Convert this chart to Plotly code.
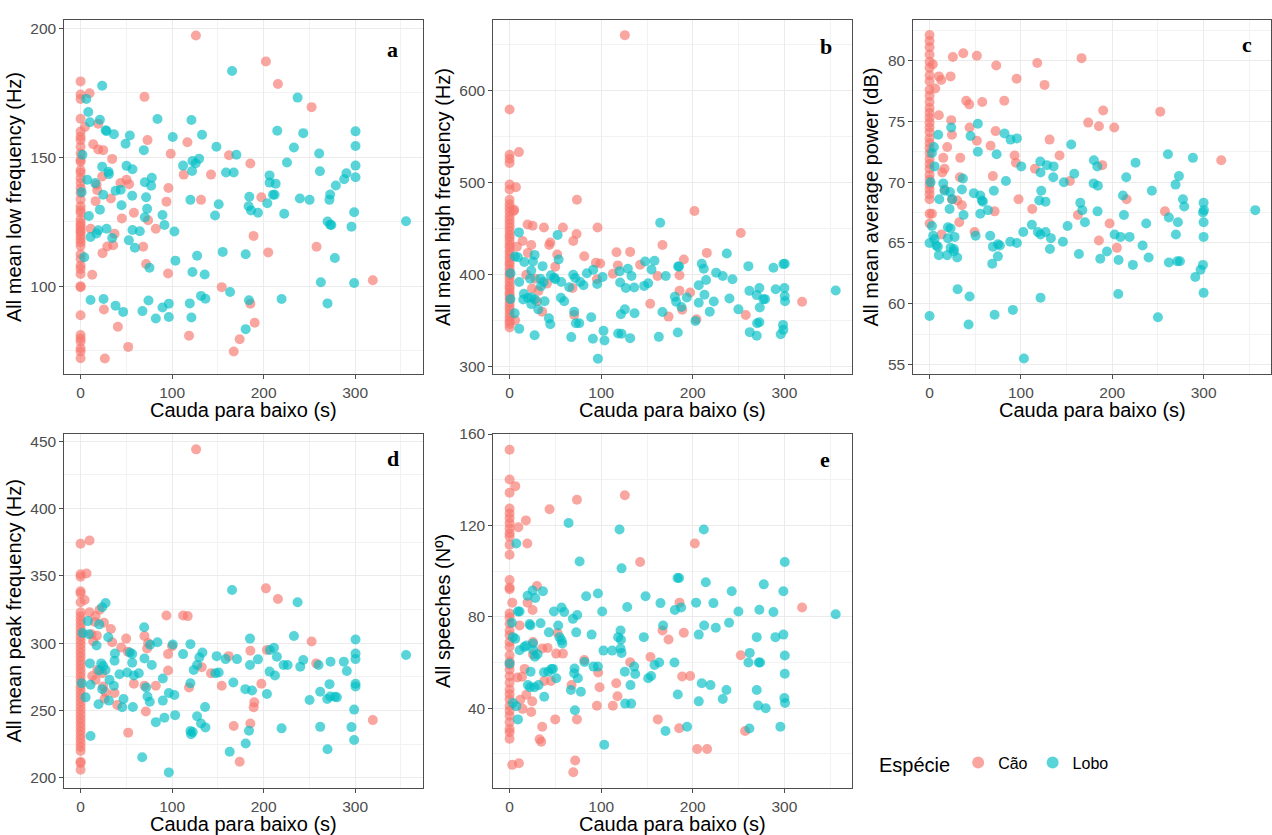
import plotly.graph_objects as go

# ---------------- data ----------------
# Panel a: All mean low frequency (Hz)
a_cao_x = [126, 202.5, 215.6, 252.4, 69.8, 9.8, 19.3, 4.7, 13.8, 19.3, 24.7, 34.5, 23.6, 17.5, 18.2, 16.4, 33.1, 43.6,
           50.2, 53, 73.1, 98.5, 116.7, 112.7, 142.5, 96, 93.8, 131.6, 162.2, 185.5, 197.5, 58.2, 45.1, 73.8, 82.2,
           10.9, 37.1, 35.6, 29.1, 24, 68.4, 71.6, 95.6, 12.7, 189, 257.8, 205, 154.2, 319.3, 25.5, 185.5, 40.7,
           190.2, 118.5, 52, 173.8, 167.3, 26.5,
           0, 0, 0, 0, 0, 0, 0, 0, 0, 0, 0, 0, 0, 0, 0, 0, 0, 0, 0, 0, 0, 0, 0, 0, 0, 0, 0, 0, 0, 0, 0, 0, 0, 0,
           0, 0, 0, 0, 0, 0, 0, 0, 0, 0, 0]
a_cao_y = [197.3, 187.2, 178.5, 169.5, 173.5, 174.9, 163.1, 161.8, 155.1, 153.1, 152.8, 149.4, 142.6, 139.4, 137.2,
           133, 134, 140, 141.3, 139.6, 156.7, 151.4, 155.9, 143.3, 143.3, 138.1, 132.8, 133.5, 150.8, 147.6, 134.5,
           128.5, 126.3, 125.6, 122.3, 122.3, 120.3, 115.9, 115.4, 112.8, 115.3, 108.6, 104.9, 104.4, 119.5, 115.3,
           113.1, 99.6, 102.3, 90.9, 93.2, 84.2, 85.8, 80.7, 76.4, 79.4, 74.6, 71.9,
           179.5, 174.4, 172.7, 165, 160, 158, 156.7, 154.1, 151.5, 149, 148.3, 145.1, 144, 141.9, 140, 138, 136.2,
           133.6, 131, 129.5, 128.5, 126, 124.6, 123.5, 122.7, 121.5, 120.8, 119.5, 118.2, 117, 115.6, 112.4, 110.5,
           108, 106.7, 104.7, 100, 99.6, 88.7, 81, 79.7, 78.5, 75.9, 74.6, 72]
a_lobo_x = [165.5, 23.6, 237.1, 6.2, 8.4, 21.1, 10.2, 84, 121.1, 27.3, 28.4, 36.4, 53.8, 49.1, 100.7, 132.7, 214.9,
            243.3, 300.4, 300.4, 233.1, 148.4, 69.1, 170.2, 260.7, 23.6, 50.2, 56.7, 30.5, 7.3, 30.9, 112, 122.2,
            125.8, 129.5, 121.8, 158.9, 167.3, 225.5, 261.5, 300.4, 290.5, 288, 300.4, 206.5, 206.5, 213.1, 278.9,
            77.8, 70.2, 77.1, 16, 38.2, 43.9, 1.1, 24.7, 56.4, 71.6, 120, 184.4, 210.2, 212, 239.6, 250.2, 272.7,
            271.9, 204, 150.9, 44.7, 21.1, 72.7, 183.6, 186.2, 193.8, 146.9, 222.5, 298.9, 9.1, 70.2, 89.5, 269.8,
            272.7, 274, 355.6, 296, 91.6, 56.7, 64.7, 102.5, 28.4, 19.3, 17.5, 10.9, 34.5, 52.7, 59.3, 155.3, 180.4,
            127.3, 277.8, 103.6, 75.3, 4, 122.2, 135.6, 262.5, 298.9, 163.3, 10.9, 25.1, 131.6, 136.4, 219.6, 184,
            74.2, 38.2, 46.5, 67.6, 89.5, 96.4, 119.3, 269.8, 82.2, 96.4, 121.1, 180.4, 2]
a_lobo_y = [183.5, 177.8, 173.2, 172.7, 167.6, 164.6, 163.6, 164.9, 164.5, 160.5, 160.2, 159, 158.5, 155.3, 157.9,
            158.8, 160.3, 159.4, 160.1, 154.4, 153.8, 154.1, 152.8, 151, 151.5, 146.4, 146.7, 145.4, 144.4, 141.3,
            143.5, 146.8, 148.6, 147.7, 149.5, 144.7, 144.1, 144.1, 148, 144.6, 146.8, 143.8, 141.5, 142.3, 143,
            140.2, 139.8, 139.1, 142.1, 140.3, 139, 140, 137, 137.4, 136.5, 135.5, 135.1, 134.5, 133.5, 134.7, 135.5,
            135.5, 134, 133.5, 135.6, 133.5, 132.2, 131.8, 131.4, 129.7, 130, 131, 129.4, 128.5, 127.4, 128.1, 128.7,
            127.2, 126.7, 127.6, 125.1, 123.8, 123.7, 125.2, 123.1, 123.7, 121.8, 121.3, 121.2, 122.3, 121.7, 120.4,
            119.1, 118.7, 117.8, 114.9, 113.3, 112.4, 111.8, 110.9, 109.9, 107.1, 111.2, 105.5, 104.5, 101.5, 101.2,
            97.7, 94.6, 95, 96.2, 95.1, 95, 94.5, 94.4, 92.4, 90, 90.3, 91.7, 93.2, 93.3, 93.3, 87.4, 88, 87.8, 83.3,
            151]

# Panel b: All mean high frequency (Hz)
b_cao_x = [125.8, 10.2, 6.9, 4.4, 73.5, 201.8, 252.4, 19.6, 25.1, 37.5, 58.2, 96, 73.1, 69.5, 14.2, 23.6, 44.4,
           43.3, 166.9, 215.3, 116.7, 131.6, 52, 81.5, 20, 190.2, 94.2, 98.9, 118.2, 142.5, 49.8, 112.7, 161.5,
           185.5, 95.3, 18.2, 28, 24.4, 31.6, 40.7, 68.7, 185.5, 197.1, 153.5, 319.3, 35.6, 70.5, 188.4, 173.5,
           257.8, 204, 29.8, 8, 5, 6,
           0, 0, 0, 0, 0, 0, 0, 0, 0, 0, 0, 0, 0, 0, 0, 0, 0, 0, 0, 0, 0, 0, 0, 0, 0, 0, 0, 0, 0, 0, 0, 0, 0, 0,
           0, 0, 0, 0, 0, 0, 0, 0, 0]
b_cao_y = [660, 532.8, 494.7, 468.8, 481, 468.8, 444.8, 454.1, 452.7, 450.9, 450.9, 450.9, 443.7, 436.1, 436.1,
           431.8, 434.4, 431.8, 431.8, 423.2, 423.9, 424.3, 421.4, 419.6, 423.2, 416, 412.4, 411.7, 409.6, 410.3,
           408.1, 400.6, 398, 398.8, 394.5, 399.5, 395.2, 384.4, 381.9, 389.8, 385.1, 381.9, 380.1, 367.9, 370,
           359.3, 355.7, 361.4, 353.9, 355.7, 351, 370.7, 430, 470, 350,
           579.2, 530, 525.6, 521, 497.6, 492.2, 481, 476, 472, 468, 463, 459, 455, 451, 447, 443, 440, 436, 432,
           429, 425, 421, 417, 413, 410, 406, 402, 399, 395, 391, 387, 384, 380, 377, 373, 369, 365, 361, 357, 353,
           349, 346, 342]
b_lobo_x = [164.4, 10.2, 52.4, 237.1, 5.8, 9, 27.3, 53.5, 16, 25.5, 36, 184, 185, 209.8, 212, 260.7, 288, 300.4,
            298.9, 158.2, 148, 154.9, 129.1, 120, 101.5, 95.6, 84.4, 69.5, 71.6, 91.3, 48.7, 23.6, 45.1, 49.8, 56.4,
            33.5, 37.1, 10.5, 22.5, 34.2, 65.1, 77.1, 80.7, 133.1, 120.7, 126.9, 136, 146.9, 170.5, 151.3, 225.5,
            232.7, 243.3, 214.5, 206.5, 212.7, 300, 290.5, 261.8, 272.7, 269.8, 277.1, 278.9, 300.4, 300.7, 356,
            240, 222.9, 193.5, 180.4, 181.8, 206.5, 187.6, 218.5, 249.8, 273.1, 15.6, 20, 24, 14.9, 23.6, 38.2,
            27.6, 56, 59.6, 31.3, 70.5, 125.8, 121.5, 136.4, 166.9, 42.9, 44.4, 72.4, 76, 89.1, 5.5, 270.2, 272.7,
            202.9, 298.5, 298.9, 10.5, 27.3, 67.3, 102.5, 103.6, 90.9, 118.5, 122.2, 131.6, 162.9, 183.6, 262.2,
            269.8, 296, 96.4, 1, 1]
b_lobo_y = [455.9, 445.5, 442.6, 422.5, 419.3, 418.5, 421, 416, 413.2, 413.9, 408.8, 408.5, 408.3, 411.4, 406,
            408.8, 407, 411.4, 411, 414.6, 413.9, 405.2, 406, 403.1, 397, 389.4, 401, 399.5, 395.9, 404.9, 396.3,
            404.1, 398.8, 394.5, 391.6, 395.2, 391.6, 391.6, 395.2, 386.9, 385.8, 391.6, 388, 398, 390.9, 385.1,
            385.5, 387.3, 398, 390.2, 401.7, 398, 394.5, 393.8, 388, 377.6, 385.1, 383.7, 381.9, 385.1, 377.3,
            372.9, 372.9, 376.2, 370.7, 382.3, 373.6, 370.4, 374.7, 375.5, 370, 368.9, 364.3, 359.3, 361.8, 363.9,
            378.7, 374.4, 374.7, 372.6, 367.5, 370.7, 372.6, 374.4, 370.7, 361.8, 359.3, 361.8, 356.4, 357.5, 358.9,
            352, 345.6, 346.7, 346.7, 353.2, 357.5, 346.7, 347.8, 349.2, 344.9, 339.5, 340.6, 333.7, 331.6, 338.4,
            328, 329.8, 335.5, 335.2, 330.5, 331.9, 336.6, 337, 333, 334.8, 308.2, 401, 373]

# Panel c: All mean average power (dB)
c_cao_x = [3.6, 10.2, 12.8, 6.2, 25.5, 36.9, 51.8, 73, 117.9, 166.4, 23, 95.3, 125.9, 40.1, 43.4, 57.7, 81.8,
           190.1, 252.6, 173.7, 185.4, 202.2, 10.2, 23.7, 24.5, 43.8, 72.3, 51.8, 131.4, 19.3, 66.8, 93.1, 142.3,
           319.3, 15, 33.6, 94.5, 189, 16.4, 13.9, 115.3, 69.3, 33.2, 153.6, 16.4, 24.5, 97.4, 30.3, 35.4, 215.7,
           257.7, 71.2, 112.4, 162.4, 2.6, 32.5, 197.1, 49.3, 13.1, 185.4, 205.1,
           0, 0, 0, 0, 0, 0, 0, 0, 0, 0, 0, 0, 0, 0, 0, 0, 0, 0, 0, 0, 0, 0, 0, 0, 0, 0, 0, 0, 0, 0, 0, 0]
c_cao_y = [79.7, 78.7, 78.4, 77.7, 80.3, 80.6, 80.4, 79.6, 79.8, 80.2, 78.7, 78.5, 78, 76.7, 76.4, 76.6, 76.7, 75.9,
           75.8, 74.9, 74.6, 74.5, 75.5, 75.1, 73.9, 74.5, 74.2, 73.4, 73.5, 72.9, 73, 72.2, 72.2, 71.8, 72, 72,
           71.6, 71.4, 71.1, 70.8, 71.1, 70.5, 70.4, 70.1, 69.4, 68.6, 68.6, 68.5, 68.1, 68.6, 67.6, 67.6, 67.8,
           67.3, 67.4, 66.7, 66.6, 65.9, 65.7, 65.2, 64.6,
           82.1, 81.6, 81.1, 80.5, 79.9, 79.4, 78.8, 78.3, 77.6, 77.1, 76.6, 76.1, 75.7, 75.3, 74.9, 74.5, 74.1,
           73.6, 73.2, 72.8, 72.4, 71.9, 71.5, 71.1, 70.6, 70.2, 69.8, 69.4, 69, 68.6, 67.4, 66.6]
c_lobo_x = [52.9, 23.7, 9.5, 44.9, 82.1, 88.7, 95.6, 155.1, 4.7, 2.6, 52.9, 73.4, 261, 288.3, 225.5, 121.2, 121.5,
            128.5, 135.8, 179.9, 183.6, 100.4, 5.5, 158.4, 135.4, 215.3, 273, 269.3, 36.5, 83.6, 147.1, 179.6,
            184.3, 1.1, 15, 35.4, 16.4, 22.3, 48.5, 70.4, 122.3, 243.4, 55.5, 57.3, 58.4, 10.6, 24.8, 211.7, 277.4,
            300, 120.1, 127, 165, 278.8, 356.6, 21.9, 63.9, 55.5, 167.2, 183.9, 299.3, 300.4, 37.2, 212.8, 262,
            170.1, 237.2, 271.9, 300, 2.6, 20.1, 23, 112, 151.1, 102.6, 118.6, 121.5, 127, 4, 5.5, 20.1, 27.4, 50.4,
            66.4, 202.6, 209.1, 219, 269.7, 300, 132.8, 0, 7.3, 9.1, 69.3, 74.8, 77, 88.3, 95.6, 146, 23, 26.6,
            26.6, 233.2, 131.8, 10.2, 19.3, 30.3, 74.8, 163.5, 194.2, 239.8, 186.9, 206.9, 68.6, 262, 271.2, 274.1,
            222.6, 299.3, 296.7, 290.9, 30.7, 206.6, 300, 43.8, 121.5, 91.2, 0, 71.2, 250, 42.7, 103.3]
c_lobo_y = [74.8, 74.5, 73.9, 73.8, 74, 73.5, 73.6, 73.1, 72.9, 72.4, 72.5, 72.3, 72.3, 72, 71.6, 71.7, 70.8, 71.4,
            71.3, 71.8, 71.3, 71.3, 71.3, 70.7, 70.4, 70.4, 70.5, 69.8, 70.3, 70.1, 70, 69.9, 69.7, 70, 69.9, 69.4,
            69.3, 69.2, 69.1, 69.3, 69.3, 69.3, 68.9, 68.5, 68.4, 68.6, 68.6, 68.9, 68.6, 68.3, 68.5, 68.4, 68.3,
            68, 67.7, 67.8, 67.7, 67.4, 67.7, 67.6, 67.5, 67.7, 67.3, 67.3, 67.1, 66.7, 66.6, 66.7, 66.7, 66.4, 66.3,
            66.2, 66.5, 66.4, 65.9, 65.9, 65.7, 65.9, 65.6, 65.3, 65.4, 65.5, 65.6, 65.6, 65.7, 65.5, 65.5, 65.7,
            65.5, 65.4, 65, 64.8, 64.7, 64.7, 64.9, 64.8, 65.1, 65, 65.1, 64.6, 64.5, 64.3, 64.8, 64.5, 64, 64, 63.8,
            63.9, 64.1, 64.3, 63.8, 63.7, 63.6, 63.3, 63.4, 63.5, 63.5, 63.2, 63.2, 62.8, 62.2, 61.2, 60.8, 60.9,
            60.6, 60.5, 59.5, 59, 59.1, 58.9, 58.3, 55.5]

# Panel d: All mean peak frequency (Hz)
d_cao_x = [126.2, 9.8, 6.5, 4.4, 9.8, 20.7, 16.4, 25.5, 15.6, 33.1, 17.8, 12, 13.8, 34.5, 49.8, 69.8, 73.8, 72.7,
           44.4, 51.6, 93.8, 112, 117.1, 100, 95.6, 95.6, 132.4, 142.5, 154.2, 118.5, 161.8, 185.5, 202.5, 215.6,
           252.4, 203.6, 257.5, 197.5, 58.2, 69.8, 82.2, 37.1, 40, 71.3, 189.8, 189.1, 319.3, 185.5, 52, 167.3,
           173.8, 12.7, 16.4, 23.6, 18.2, 24.7, 27.3, 26.2,
           0, 0, 0, 0, 0, 0, 0, 0, 0, 0, 0, 0, 0, 0, 0, 0, 0, 0, 0, 0, 0, 0, 0, 0, 0, 0, 0, 0, 0, 0, 0, 0, 0, 0,
           0, 0, 0, 0, 0, 0, 0, 0, 0, 0]
d_cao_y = [443.9, 376.2, 351.7, 332.1, 323, 324.8, 320.1, 315.2, 315.7, 310.5, 305.6, 306.6, 301.5, 300.7, 303.4,
           305.4, 300.2, 296.1, 296.8, 293.6, 320.6, 320.6, 320.1, 297.8, 291.9, 279.7, 282.1, 277.7, 268.4, 267.2,
           290.4, 294.4, 340.7, 332.8, 301.2, 294.9, 285, 269.9, 269.9, 268.4, 268.4, 263, 254.2, 249.3, 256.1,
           252.5, 242.9, 240.4, 233.6, 238.5, 212, 275.7, 272.8, 277.7, 280.1, 267.9, 263.5, 258.8,
           373.8, 351.2, 349.3, 338.5, 337, 330.4, 323, 320, 317, 314, 311, 308, 305, 302, 299, 296, 293, 290, 287,
           284, 281, 278, 275, 272, 268, 265, 262, 259, 256, 253, 250, 247, 244, 241, 238, 235, 232, 229, 226, 223,
           220, 212, 211, 206]
d_lobo_x = [165.5, 237.1, 27.3, 23.6, 8, 20.4, 2.2, 9.1, 17.5, 30.2, 69.5, 84, 100.7, 120, 76, 133.1, 185.1, 233.1,
            300.4, 300.4, 300.4, 355.6, 287.6, 290.9, 273.1, 260, 240, 243.3, 221.8, 226.2, 206.9, 211.3, 214.5,
            193.8, 185.1, 170.9, 158.5, 148.7, 129.8, 112, 127.3, 123.6, 120, 150.9, 147.3, 166.9, 206.5, 212.4,
            203.6, 180, 187.3, 272, 261.8, 269.5, 272.7, 277.8, 280, 300.4, 300.4, 298.9, 250.2, 261.8, 219.6, 296,
            298.9, 269.8, 184, 180.4, 162.9, 120, 122.5, 120.7, 131.6, 136.4, 127.3, 136, 103.3, 91.6, 82.2, 96.4,
            102.5, 89.8, 89.8, 73.1, 75.6, 71.6, 69.8, 77.8, 63.6, 58.2, 50.9, 56.4, 53.8, 56.4, 42.5, 46.9, 45.5,
            57.1, 37.1, 37.5, 31.6, 36.4, 30.9, 19.6, 22.5, 24.7, 20.4, 27.3, 10.2, 10.9, 5.5, 23.6, 10.9, 67.3,
            96.4, 1.1]
d_lobo_y = [339.5, 330.4, 329.9, 326.7, 316.4, 314, 307.6, 306.6, 298.3, 304.4, 311.8, 300.7, 299, 299.3, 298.8,
            293.1, 303.4, 305.4, 302.7, 292.4, 288.2, 291.2, 286.3, 279.4, 286.3, 283.8, 282.6, 287.5, 283.8, 283.8,
            294.9, 296.6, 290, 288, 283.8, 288.2, 288.2, 290.4, 289.5, 291.9, 283.8, 280.1, 270.3, 278.2, 277.7,
            270.8, 278.9, 276, 262.3, 265.9, 264.9, 269.6, 264, 258.6, 260.5, 260.3, 259.8, 269.9, 267.9, 250.7,
            257.8, 237.9, 236.8, 237.7, 228.2, 221.3, 235, 225.5, 219.4, 234.8, 234, 232.4, 240.4, 237.5, 245.8,
            252.7, 246.6, 244.6, 241.4, 263, 261.5, 257.4, 273.8, 260.5, 256.6, 267.2, 288.7, 283.8, 277.7, 276,
            278.2, 292, 293.1, 285.5, 276.9, 258.6, 252.5, 252.7, 287, 292.4, 272.8, 268.4, 257.4, 254.7, 285, 283.1,
            279.7, 280.1, 285, 269.1, 259.8, 265.9, 231.1, 215.4, 204.1, 270.3]

# Panel e: All speeches (No)
e_cao_x = [6.2, 9.5, 17.8, 19.3, 73.5, 43.6, 125.8, 202.2, 142.5, 29.8, 2.9, 19.6, 25.1, 185.5, 319.3, 10.9, 25.5,
           41.5, 35.6, 25.5, 52.4, 50.9, 58.2, 166.9, 173.5, 190.2, 153.8, 131.6, 252.4, 81.5, 16.4, 8.4, 13.5,
           96.7, 188.4, 197.1, 116.4, 37.8, 45.1, 67.6, 98.2, 117.8, 18.2, 11.6, 24.7, 23.6, 14.2, 112.7, 95.3,
           49.8, 73.5, 161.8, 35.6, 185.1, 257.1, 32.7, 34.5, 204.7, 215.6, 2.9, 10.2, 71.6, 69.5,
           0, 0, 0, 0, 0, 0, 0, 0, 0, 0, 0, 0, 0, 0, 0, 0, 0, 0, 0, 0, 0, 0, 0, 0, 0, 0, 0, 0, 0, 0, 0, 0, 0, 0,
           0, 0, 0, 0]
e_cao_y = [137.2, 119.2, 122.2, 112.1, 131.2, 127.1, 133.2, 112.1, 104, 93.5, 86.2, 86.2, 83, 86.2, 84.1, 76.2,
           69, 66.4, 66.1, 63.5, 72.9, 63.9, 63.9, 74, 70.1, 73, 62.4, 60.1, 63.2, 61.1, 57.2, 53.4, 53.8, 55.6,
           53.9, 54.1, 50.9, 51.9, 51.9, 50.1, 49.2, 45.2, 45.9, 43.7, 43, 38.3, 39.7, 41.1, 41.1, 35.1, 35.1, 35.1,
           31.9, 31.2, 30, 26.4, 25.3, 22.1, 22.1, 15.2, 15.9, 17.1, 12,
           153.1, 140.1, 134.3, 127.4, 125.2, 123.1, 120.9, 118.7, 116.6, 115.1, 111.5, 107.2, 96.1, 92.8, 92.1,
           81.5, 79.8, 77, 74, 71.9, 69, 66.9, 63.2, 60.4, 59, 56.8, 54, 51.1, 48.2, 46.1, 43.9, 41, 38.9, 36.7,
           33.8, 30.9, 29.5, 26.6]
e_lobo_x = [64.4, 120, 212, 7.3, 76.4, 300.4, 122.2, 183.3, 185, 214.2, 277.5, 242.5, 298.9, 36.4, 25.1, 19.6, 28,
            96.4, 83.6, 148.4, 164.7, 203.6, 222.5, 56.7, 59.6, 48.4, 101.1, 128.4, 180.4, 187.3, 249.8, 272.7, 288,
            356, 9.1, 10.9, 2.5, 21.8, 22.8, 33.8, 53.1, 69.1, 73.8, 167.6, 212.4, 225.1, 239.6, 42.9, 54.5, 56.7,
            57.5, 72.7, 89.5, 121.1, 118.5, 121.5, 146.5, 206.5, 269.8, 290.2, 298.9, 3.6, 6.2, 10.9, 16, 18.2, 25.5,
            25.8, 27.6, 30.5, 102.5, 112, 121.1, 122.2, 262.2, 260.7, 300.4, 272, 273.5, 180, 158.2, 163.3, 81.8,
            70.9, 74.5, 70.5, 91.6, 96.4, 125.8, 136, 137.1, 151.3, 154.5, 300.4, 22.9, 37.5, 42.2, 45.8, 47.3,
            50.9, 20, 22.5, 31.6, 27.3, 132, 66.9, 77.8, 209.8, 219.3, 236.7, 269.8, 300, 300.7, 37.8, 183.6, 206.5,
            232.7, 126.2, 132.7, 271.3, 279.6, 71.3, 7.3, 3.6, 9.1, 170.2, 193.8, 261.8, 295.6, 103.3, 0]
e_lobo_y = [121.1, 118.2, 118.2, 112.1, 104.2, 104, 101.2, 97, 97, 95.1, 94.2, 91.2, 91.2, 91.2, 91.5, 89.2, 88.2,
            90.2, 89, 89, 86, 86.2, 86, 84.1, 82.1, 82.3, 82.3, 84.3, 83, 84.1, 82.3, 83.1, 82.1, 81.1, 82.3, 82.3,
            77.4, 76.8, 76.2, 77.2, 76.2, 79.1, 80.8, 76.2, 76.2, 75.2, 77.4, 73.2, 71.1, 69.7, 68.3, 73.2, 72.2, 74,
            71.1, 70, 71.1, 72.2, 71.1, 71.1, 72.2, 71.1, 70.4, 65.4, 66.8, 67.4, 68.3, 65.4, 62.5, 63.6, 65.2, 65.2,
            66.1, 64.2, 64.2, 60, 63.1, 60, 60, 60, 58.9, 60, 60.2, 57.4, 53.1, 55.3, 58.2, 58.2, 56, 58.2, 55, 53.1,
            54.1, 55.1, 56, 55.7, 56, 57.2, 57.2, 53.1, 50.1, 49.2, 50.1, 49.2, 50.1, 48, 47.2, 50.9, 50.1, 48, 48,
            44.5, 42.3, 45, 46, 43, 44, 42, 42, 41.2, 40, 39.1, 40.9, 42.3, 35.1, 30, 31.9, 31.1, 31.9, 24, 59.6]

species = ["Cão", "Lobo"]
colors = ["#F8766D", "#00BFC4"]
x_title = "Cauda para baixo (s)"
y_titles = ["All mean low frequency (Hz)", "All mean high frequency (Hz)", "All mean average power (dB)",
            "All mean peak frequency (Hz)", "All speeches (Nº)"]
letters = ["a", "b", "c", "d", "e"]

panels = [
    (a_cao_x, a_cao_y, a_lobo_x, a_lobo_y),
    (b_cao_x, b_cao_y, b_lobo_x, b_lobo_y),
    (c_cao_x, c_cao_y, c_lobo_x, c_lobo_y),
    (d_cao_x, d_cao_y, d_lobo_x, d_lobo_y),
    (e_cao_x, e_cao_y, e_lobo_x, e_lobo_y),
]

# ---------------- layout geometry ----------------
W, H = 1272, 835
px_x = [(64.3, 422.7), (493.3, 852.0), (913.3, 1271.0), (64.3, 422.7), (493.3, 852.0)]
px_y = [(11.7, 370.0), (11.7, 370.0), (11.7, 370.0), (429.7, 787.7), (429.7, 787.7)]
y_ranges = [[65.7, 203.5], [291, 676.9], [54.19, 83.37], [192.4, 455.6], [5.0, 160.2]]
y_dticks = [50, 100, 5, 50, 40]
x_range = [-17.8, 373.8]
letter_pos = [(0.917, 0.917), (0.9275, 0.924), (0.933, 0.929), (0.917, 0.930), (0.926, 0.927)]

fig = go.Figure()
FONT = "Liberation Sans, Arial, sans-serif"

for i, (cx, cy, lx, ly) in enumerate(panels):
    sfx = "" if i == 0 else str(i + 1)
    for name, xs, ys, col in [(species[0], cx, cy, colors[0]), (species[1], lx, ly, colors[1])]:
        fig.add_trace(go.Scatter(
            x=xs, y=ys, mode="markers", name=name, legendgroup=name, showlegend=(i == 0),
            marker=dict(size=10, color=col, opacity=0.65, line=dict(width=0)),
            xaxis="x" + sfx, yaxis="y" + sfx))
    xd = [px_x[i][0] / W, px_x[i][1] / W]
    yd = [1 - px_y[i][1] / H, 1 - px_y[i][0] / H]
    common = dict(showline=True, mirror=True, linecolor="#4d4d4d", linewidth=1,
                  ticks="outside", ticklen=4, tickcolor="#4d4d4d", tickwidth=1,
                  tickfont=dict(size=15.5, color="#4D4D4D", family=FONT),
                  showgrid=True, gridcolor="#EBEBEB", gridwidth=1, zeroline=False)
    fig.update_layout(**{
        "xaxis" + sfx: dict(domain=xd, range=x_range, dtick=100, tick0=0, anchor="y" + sfx,
                            minor=dict(dtick=50, tick0=0, showgrid=True, gridcolor="#F2F2F2", gridwidth=0.6),
                            **common),
        "yaxis" + sfx: dict(domain=yd, range=y_ranges[i], dtick=y_dticks[i], tick0=0, anchor="x" + sfx,
                            title=dict(text=y_titles[i], font=dict(size=20, color="black", family=FONT), standoff=3),
                            minor=dict(dtick=y_dticks[i] / 2, tick0=0, showgrid=True, gridcolor="#F2F2F2",
                                       gridwidth=0.6),
                            **common),
    })
    # x-axis title
    fig.add_annotation(text=x_title, xref="x%s domain" % sfx, yref="y%s domain" % sfx, x=0.5, y=0,
                       yshift=-36, showarrow=False, xanchor="center", yanchor="middle",
                       font=dict(size=20, color="black", family=FONT))
    # panel letter
    fig.add_annotation(text="<b>%s</b>" % letters[i], xref="x%s domain" % sfx, yref="y%s domain" % sfx,
                       x=letter_pos[i][0], y=letter_pos[i][1], showarrow=False, xanchor="center", yanchor="middle",
                       font=dict(size=22, color="black", family="Liberation Serif, Times New Roman, serif"))

fig.update_layout(
    width=W, height=H, margin=dict(l=0, r=0, t=0, b=0),
    paper_bgcolor="white", plot_bgcolor="white",
    font=dict(family=FONT),
    legend=dict(orientation="h", x=877 / W, xanchor="left", y=1 - 763 / H, yanchor="middle",
                title=dict(text="Espécie", font=dict(size=20, color="black", family=FONT), side="left"),
                font=dict(size=16, color="black", family=FONT), bgcolor="rgba(0,0,0,0)",
                itemsizing="constant"),
)

fig.write_html("out.html")
